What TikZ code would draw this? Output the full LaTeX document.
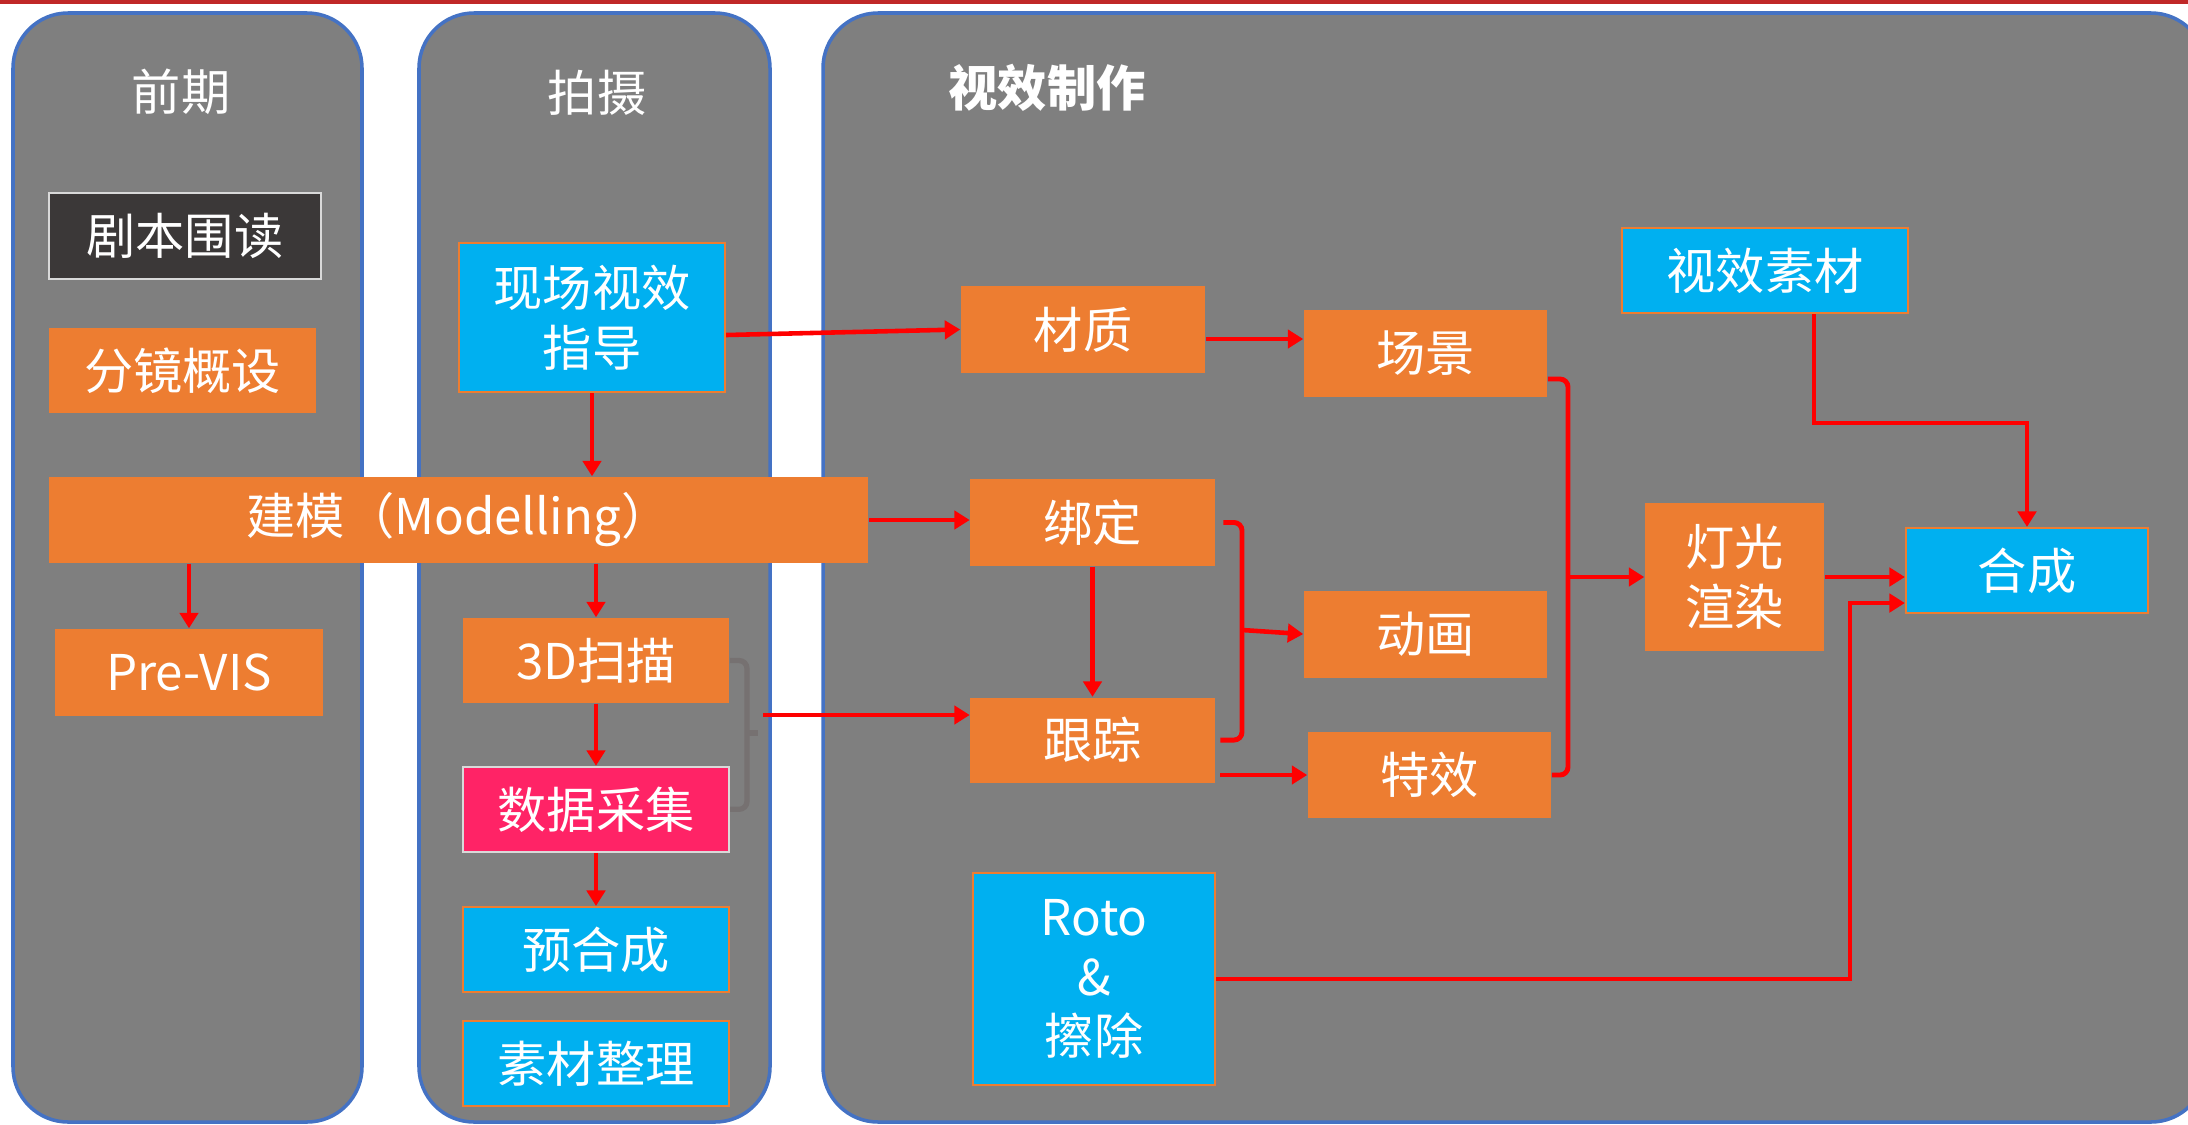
\documentclass[tikz,border=0pt]{standalone}
\usepackage{fontspec}
\setmainfont{Noto Sans CJK SC}
\usepackage{tikz}
\usetikzlibrary{positioning}
\usetikzlibrary{arrows.meta}
\definecolor{panelgray}{RGB}{127,127,127}
\definecolor{panelblue}{RGB}{68,114,196}
\definecolor{boxorange}{RGB}{237,125,49}
\definecolor{boxblue}{RGB}{0,176,240}
\definecolor{boxdark}{RGB}{59,56,56}
\definecolor{boxpink}{RGB}{255,35,102}
\definecolor{boxframe}{RGB}{217,217,217}
\definecolor{linegray}{RGB}{118,113,113}
\definecolor{linered}{RGB}{255,0,0}
\definecolor{topred}{RGB}{192,40,40}
\begin{document}
\begin{tikzpicture}
[
x=0.01cm, y=-0.01cm,
panel-a/.style={draw=panelblue, line width=1pt, fill=panelgray, rounded corners=5.5mm},
title-a/.style={text=white, font=\fontsize{14}{17}\selectfont},
box-a/.style={rectangle, inner sep=0pt, text=white, align=center, font=\fontsize{14}{17}\selectfont, minimum width=26.6mm, minimum height=8.5mm},
box-o/.style={box-a, fill=boxorange},
box-b/.style={box-a, fill=boxblue, draw=boxorange, line width=0.6pt},
box-d/.style={box-a, fill=boxdark, draw=boxframe, line width=0.6pt},
box-p/.style={box-a, fill=boxpink, draw=boxframe, line width=0.6pt},
arrow-r/.style={draw=linered, line width=1.3pt, -{Triangle[length=4.4pt,width=5.2pt]}},
brace-r/.style={draw=linered, line width=1.4pt, rounded corners=0.8mm},
brace-g/.style={draw=linegray, line width=1.5pt, rounded corners=0.8mm},
]
\useasboundingbox (0,0) rectangle (2188,1124);
\clip (0,0) rectangle (2188,1124);
\fill [white] (0,0) rectangle (2188,1124);
\fill [topred] (0,0) rectangle (2188,4);
\draw [panel-a] (13,13)  rectangle (362,1122);
\draw [panel-a] (419,13) rectangle (770,1122);
\draw [panel-a] (823,13) rectangle (2206,1122);
\node (t1)  [title-a] at (181,92)  {前期};
\node (t2)  [title-a] at (597,93)  {拍摄};
\node (t3)  [title-a, font=\fontsize{14}{17}\selectfont\bfseries] at (1047,88) {视效制作};
\node (n1)  [box-d, minimum width=27.2mm, minimum height=8.6mm]  at (185,236)      {剧本围读};
\node (n2)  [box-o, minimum width=26.7mm]                        at (182.5,370.5)  {分镜概设};
\node (n3)  [box-o, minimum width=81.9mm, minimum height=8.6mm]  at (458.5,520)    {建模（Modelling）};
\node (n4)  [box-o, minimum width=26.8mm, minimum height=8.7mm]  at (189,672.5)    {Pre-VIS};
\node (n5)  [box-b, minimum height=14.9mm]                       at (592,317.5)    {现场视效\\指导};
\node (n6)  [box-o]                                              at (596,660.5)    {3D扫描};
\node (n7)  [box-p, below = 06.2mm of n6]                                          {数据采集};
\node (n8)  [box-b, below = 05.3mm of n7]                                          {预合成};
\node (n9)  [box-b, below = 02.7mm of n8]                                          {素材整理};
\node (n10) [box-o, minimum width=24.4mm, minimum height=8.7mm]  at (1083,329.5)   {材质};
\node (n11) [box-o, minimum width=24.4mm, minimum height=8.7mm]  at (1092.5,522.5) {绑定};
\node (n12) [box-o, minimum width=24.4mm, below = 13mm of n11]                     {跟踪};
\node (n13) [box-b, minimum width=24.2mm, minimum height=21.2mm] at (1094,979)     {Roto\\\&\\擦除};
\node (n14) [box-o, minimum width=24.3mm, minimum height=8.7mm]  at (1425.5,353.5) {场景};
\node (n15) [box-o, minimum width=24.3mm, minimum height=8.7mm, below = 19.2mm of n14] {动画};
\node (n16) [box-o, minimum width=24.3mm, minimum height=8.6mm]  at (1429.5,775)   {特效};
\node (n17) [box-o, minimum width=17.9mm, minimum height=14.8mm] at (1734.5,577)   {灯光\\渲染};
\node (n18) [box-b, minimum width=28.6mm]                        at (1765,270.5)   {视效素材};
\node (n19) [box-b, minimum width=24.2mm]                        at (2027,570.5)   {合成};
\coordinate (c1) at (747,733);
\coordinate (c2) at (763,715);
\coordinate (c3) at (1242,630);
\coordinate (c4) at (1568,577);
\draw [arrow-r] (n5.south) -- (n5.south |- n3.north);
\draw [arrow-r] (n6.north |- n3.south) -- (n6.north);
\draw [arrow-r] (n4.north |- n3.south) -- (n4.north);
\draw [arrow-r] (n6) -- (n7);
\draw [arrow-r] (n7) -- (n8);
\draw [arrow-r] ([yshift=-1.75mm]n5.east) -- (n10.west);
\draw [arrow-r] (n3.east) -- (n3.east -| n11.west);
\draw [arrow-r] ([yshift=-0.95mm]n10.east) -- ([yshift=-0.95mm]n10.east -| n14.west);
\draw [arrow-r] (n11) -- (n12);
\draw [brace-g] (n6.east) -| (c1) |- (n7.east);
\draw [brace-g] (c1) -- ++(11,0);
\draw [arrow-r] (c2) -- (c2 -| n12.west);
\draw [brace-r] ([xshift=0.8mm]n11.east) -| (c3) |- ([xshift=0.5mm]n12.east);
\draw [arrow-r] (c3) -- (n15.west);
\draw [arrow-r] ([xshift=0.5mm]n12.east |- n16.west) -- (n16.west);
\draw [brace-r] ([yshift=-2.55mm]n14.east) -| (c4) |- (n16.east);
\draw [arrow-r] (c4) -- (n17.west);
\draw [arrow-r] (n17.east) -- (n17.east -| n19.west);
\draw [arrow-r] ([xshift=4.9mm]n18.south) -- ++(0,109) -| (n19.north);
\draw [arrow-r, line width=1.1pt] (n13.east) -- ++(634,0) |- ([yshift=-3.25mm]n19.west);
\end{tikzpicture}
\end{document}
